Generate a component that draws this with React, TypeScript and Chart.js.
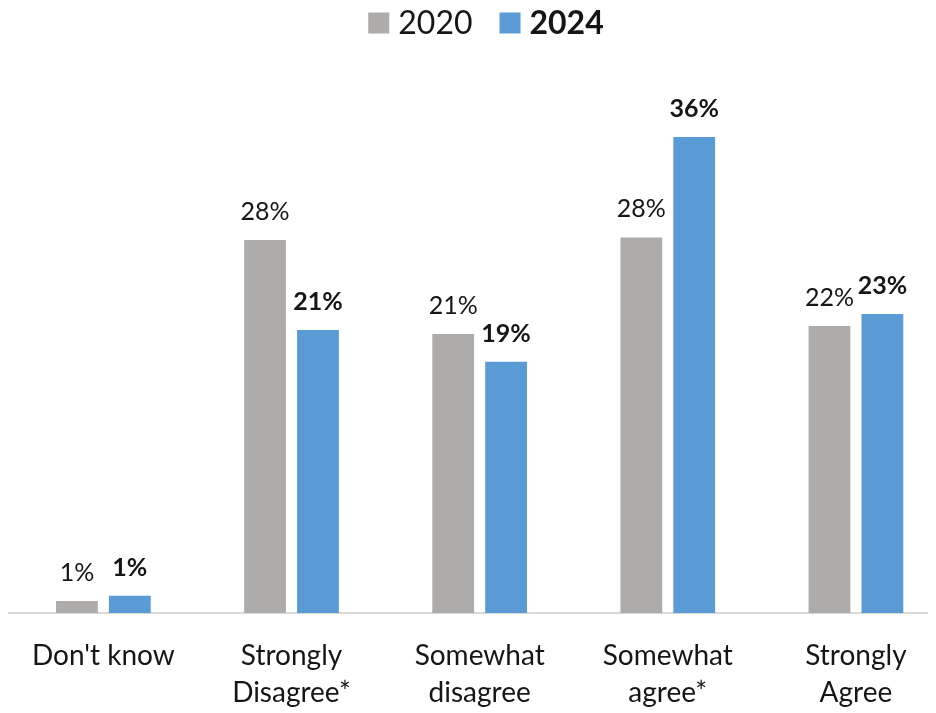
import React, { useEffect, useRef } from "react";
import { Chart, registerables } from "chart.js";

Chart.register(...registerables);

const categories: string[][] = [
  ["Don't know"],
  ["Strongly", "Disagree*"],
  ["Somewhat", "disagree"],
  ["Somewhat", "agree*"],
  ["Strongly", "Agree"],
];
const series2020: number[] = [0.9, 28.2, 21.1, 28.4, 21.7];
const series2024: number[] = [1.3, 21.4, 19.0, 36.0, 22.6];
const labels2020: string[] = ["1%", "28%", "21%", "28%", "22%"];
const labels2024: string[] = ["1%", "21%", "19%", "36%", "23%"];
const seriesNames: string[] = ["2020", "2024"];

const GRAY = "#AEABAB";
const BLUE = "#5B9BD5";
const TEXT = "#161616";
const FONT = "Lato, 'Open Sans', sans-serif";

const valueLabelPlugin = {
  id: "valueLabels",
  afterDatasetsDraw(chart: any) {
    const ctx = chart.ctx;
    const all = [labels2020, labels2024];
    ctx.save();
    ctx.fillStyle = TEXT;
    ctx.textAlign = "center";
    ctx.textBaseline = "alphabetic";
    chart.data.datasets.forEach((ds: any, di: number) => {
      const meta = chart.getDatasetMeta(di);
      ctx.font = `${di === 1 ? "bold " : ""}25px ${FONT}`;
      meta.data.forEach((bar: any, i: number) => {
        ctx.fillText(all[di][i], bar.x, bar.y - 20);
      });
    });
    ctx.restore();
  },
};

const legendPlugin = {
  id: "customLegend",
  afterDraw(chart: any) {
    const ctx = chart.ctx;
    const colors = [GRAY, BLUE];
    const box = 21;
    const gapBoxText = 9;
    const gapItems = 27;
    ctx.save();
    const widths = seriesNames.map((n, i) => {
      ctx.font = `${i === 1 ? "bold " : ""}32px ${FONT}`;
      return ctx.measureText(n).width;
    });
    const total = widths.reduce((a, w) => a + box + gapBoxText + w, 0) + gapItems;
    let x = 478 - total / 2;
    const cy = 15;
    seriesNames.forEach((n, i) => {
      ctx.fillStyle = colors[i];
      ctx.fillRect(x, cy - box / 2, box, box);
      x += box + gapBoxText;
      ctx.font = `${i === 1 ? "bold " : ""}32px ${FONT}`;
      ctx.fillStyle = TEXT;
      ctx.textAlign = "left";
      ctx.textBaseline = "middle";
      ctx.fillText(n, x, cy + 1);
      x += widths[i] + gapItems;
    });
    ctx.restore();
  },
};

export default function App() {
  const ref = useRef<HTMLCanvasElement | null>(null);
  useEffect(() => {
    if (!ref.current) return;
    Chart.defaults.font.family = FONT;
    const chart = new Chart(ref.current, {
      type: "bar",
      data: {
        labels: categories,
        datasets: [
          {
            label: seriesNames[0],
            data: series2020,
            backgroundColor: GRAY,
            categoryPercentage: 0.5623,
            barPercentage: 0.79,
          },
          {
            label: seriesNames[1],
            data: series2024,
            backgroundColor: BLUE,
            categoryPercentage: 0.5623,
            barPercentage: 0.79,
          },
        ],
      },
      options: {
        responsive: false,
        animation: false,
        layout: { padding: { top: 76, left: 0, right: 0, bottom: 0 } },
        plugins: {
          legend: { display: false },
          tooltip: { enabled: false },
        },
        scales: {
          x: {
            grid: { display: false, drawTicks: false },
            border: { display: true, color: "#D9D9D9", width: 2 },
            ticks: {
              color: TEXT,
              font: { size: 28, lineHeight: 1.321 },
              padding: 24,
              autoSkip: false,
              maxRotation: 0,
            },
            afterFit(scale: any) {
              scale.height = 100;
            },
          },
          y: {
            display: false,
            min: 0,
            max: 40,
          },
        },
      },
      plugins: [valueLabelPlugin, legendPlugin],
    });
    return () => chart.destroy();
  }, []);
  return (
    <div style={{ width: 928, height: 705, overflow: "hidden" }}>
      <canvas ref={ref} width={942} height={705} style={{ display: "block" }} />
    </div>
  );
}
